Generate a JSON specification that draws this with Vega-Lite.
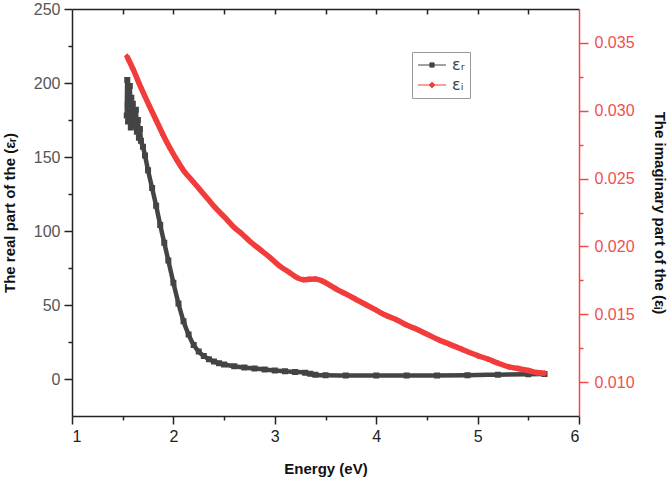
{
  "$schema": "https://vega.github.io/schema/vega-lite/v6.json",
  "width": 507,
  "height": 407,
  "padding": {"left": 2, "top": 1, "right": 5, "bottom": 5},
  "background": "white",
  "data": {
    "values": [
      {"E": 1.540, "v": 178, "s": "r"},
      {"E": 1.545, "v": 202, "s": "r"},
      {"E": 1.550, "v": 185, "s": "r"},
      {"E": 1.553, "v": 174, "s": "r"},
      {"E": 1.557, "v": 196, "s": "r"},
      {"E": 1.560, "v": 188, "s": "r"},
      {"E": 1.565, "v": 177, "s": "r"},
      {"E": 1.570, "v": 198, "s": "r"},
      {"E": 1.575, "v": 182, "s": "r"},
      {"E": 1.580, "v": 170, "s": "r"},
      {"E": 1.585, "v": 190, "s": "r"},
      {"E": 1.590, "v": 178, "s": "r"},
      {"E": 1.600, "v": 186, "s": "r"},
      {"E": 1.605, "v": 171, "s": "r"},
      {"E": 1.610, "v": 180, "s": "r"},
      {"E": 1.620, "v": 174, "s": "r"},
      {"E": 1.630, "v": 182, "s": "r"},
      {"E": 1.640, "v": 167, "s": "r"},
      {"E": 1.650, "v": 175, "s": "r"},
      {"E": 1.660, "v": 163, "s": "r"},
      {"E": 1.670, "v": 169, "s": "r"},
      {"E": 1.680, "v": 161, "s": "r"},
      {"E": 1.700, "v": 157, "s": "r"},
      {"E": 1.720, "v": 151, "s": "r"},
      {"E": 1.750, "v": 141, "s": "r"},
      {"E": 1.790, "v": 129, "s": "r"},
      {"E": 1.830, "v": 117, "s": "r"},
      {"E": 1.870, "v": 104, "s": "r"},
      {"E": 1.910, "v": 92, "s": "r"},
      {"E": 1.950, "v": 80, "s": "r"},
      {"E": 2.000, "v": 65, "s": "r"},
      {"E": 2.050, "v": 51, "s": "r"},
      {"E": 2.100, "v": 39, "s": "r"},
      {"E": 2.150, "v": 30, "s": "r"},
      {"E": 2.200, "v": 23, "s": "r"},
      {"E": 2.250, "v": 18.5, "s": "r"},
      {"E": 2.300, "v": 15.5, "s": "r"},
      {"E": 2.350, "v": 13.3, "s": "r"},
      {"E": 2.400, "v": 11.8, "s": "r"},
      {"E": 2.450, "v": 10.7, "s": "r"},
      {"E": 2.500, "v": 9.8, "s": "r"},
      {"E": 2.600, "v": 8.6, "s": "r"},
      {"E": 2.700, "v": 7.8, "s": "r"},
      {"E": 2.800, "v": 7.1, "s": "r"},
      {"E": 2.900, "v": 6.4, "s": "r"},
      {"E": 3.000, "v": 5.8, "s": "r"},
      {"E": 3.100, "v": 5.3, "s": "r"},
      {"E": 3.200, "v": 4.8, "s": "r"},
      {"E": 3.300, "v": 4.2, "s": "r"},
      {"E": 3.350, "v": 3.5, "s": "r"},
      {"E": 3.400, "v": 2.9, "s": "r"},
      {"E": 3.500, "v": 2.5, "s": "r"},
      {"E": 3.700, "v": 2.4, "s": "r"},
      {"E": 4.000, "v": 2.3, "s": "r"},
      {"E": 4.300, "v": 2.3, "s": "r"},
      {"E": 4.600, "v": 2.4, "s": "r"},
      {"E": 4.900, "v": 2.6, "s": "r"},
      {"E": 5.200, "v": 2.9, "s": "r"},
      {"E": 5.500, "v": 3.2, "s": "r"},
      {"E": 5.660, "v": 3.4, "s": "r"},
      {"E": 1.543, "v": 0.0340, "s": "i"},
      {"E": 1.600, "v": 0.0331, "s": "i"},
      {"E": 1.680, "v": 0.0317, "s": "i"},
      {"E": 1.760, "v": 0.0304, "s": "i"},
      {"E": 1.830, "v": 0.0293, "s": "i"},
      {"E": 1.900, "v": 0.0282, "s": "i"},
      {"E": 1.970, "v": 0.0272, "s": "i"},
      {"E": 2.040, "v": 0.0263, "s": "i"},
      {"E": 2.110, "v": 0.0255, "s": "i"},
      {"E": 2.180, "v": 0.0249, "s": "i"},
      {"E": 2.260, "v": 0.0242, "s": "i"},
      {"E": 2.340, "v": 0.0235, "s": "i"},
      {"E": 2.420, "v": 0.0228, "s": "i"},
      {"E": 2.500, "v": 0.0222, "s": "i"},
      {"E": 2.600, "v": 0.0214, "s": "i"},
      {"E": 2.680, "v": 0.0209, "s": "i"},
      {"E": 2.750, "v": 0.0204, "s": "i"},
      {"E": 2.850, "v": 0.0198, "s": "i"},
      {"E": 2.950, "v": 0.0192, "s": "i"},
      {"E": 3.040, "v": 0.0186, "s": "i"},
      {"E": 3.140, "v": 0.0181, "s": "i"},
      {"E": 3.220, "v": 0.01770, "s": "i"},
      {"E": 3.280, "v": 0.01755, "s": "i"},
      {"E": 3.340, "v": 0.01758, "s": "i"},
      {"E": 3.400, "v": 0.01760, "s": "i"},
      {"E": 3.460, "v": 0.01748, "s": "i"},
      {"E": 3.540, "v": 0.01715, "s": "i"},
      {"E": 3.620, "v": 0.0168, "s": "i"},
      {"E": 3.700, "v": 0.0165, "s": "i"},
      {"E": 3.800, "v": 0.0161, "s": "i"},
      {"E": 3.900, "v": 0.0157, "s": "i"},
      {"E": 4.000, "v": 0.0153, "s": "i"},
      {"E": 4.100, "v": 0.0149, "s": "i"},
      {"E": 4.200, "v": 0.0146, "s": "i"},
      {"E": 4.300, "v": 0.0142, "s": "i"},
      {"E": 4.400, "v": 0.0139, "s": "i"},
      {"E": 4.520, "v": 0.01346, "s": "i"},
      {"E": 4.620, "v": 0.0131, "s": "i"},
      {"E": 4.720, "v": 0.0128, "s": "i"},
      {"E": 4.850, "v": 0.0124, "s": "i"},
      {"E": 5.000, "v": 0.01195, "s": "i"},
      {"E": 5.100, "v": 0.0117, "s": "i"},
      {"E": 5.200, "v": 0.0114, "s": "i"},
      {"E": 5.310, "v": 0.01112, "s": "i"},
      {"E": 5.400, "v": 0.0110, "s": "i"},
      {"E": 5.500, "v": 0.01085, "s": "i"},
      {"E": 5.580, "v": 0.0107, "s": "i"},
      {"E": 5.660, "v": 0.01065, "s": "i"}
    ]
  },
  "layer": [
    {
      "transform": [{"filter": "datum.s == 'r'"}],
      "mark": {"type": "line", "color": "#444444", "strokeWidth": 4.5, "interpolate": "monotone"},
      "encoding": {
        "x": {
          "field": "E", "type": "quantitative",
          "scale": {"domain": [1, 6], "nice": false},
          "axis": {
            "orient": "bottom", "values": [1, 2, 3, 4, 5, 6], "tickSize": 8,
            "title": "Energy (eV)", "titlePadding": 17, "labelPadding": 4
          }
        },
        "y": {
          "field": "v", "type": "quantitative",
          "scale": {"domain": [-25, 250], "nice": false, "zero": false},
          "axis": {
            "orient": "left", "values": [0, 50, 100, 150, 200, 250], "tickSize": 8,
            "title": "The real part of the (εᵣ)", "labelColor": "#555555",
            "titlePadding": 16, "labelPadding": 4
          }
        }
      }
    },
    {
      "transform": [{"filter": "datum.s == 'r'"}],
      "mark": {"type": "point", "filled": true, "opacity": 1, "strokeWidth": 0},
      "encoding": {
        "x": {
          "field": "E", "type": "quantitative",
          "scale": {"domain": [1, 6], "nice": false},
          "axis": {
            "orient": "bottom", "values": [1.5, 2.5, 3.5, 4.5, 5.5], "tickSize": 4,
            "labels": false, "domain": false, "title": null
          }
        },
        "y": {
          "field": "v", "type": "quantitative",
          "scale": {"domain": [-25, 250], "nice": false, "zero": false},
          "axis": {
            "orient": "left", "values": [25, 75, 125, 175, 225], "tickSize": 4,
            "labels": false, "domain": false, "title": null
          }
        },
        "color": {
          "field": "s", "type": "nominal",
          "scale": {"domain": ["r", "i"], "range": ["#444444", "#f23c3c"]},
          "legend": {
            "orient": "none", "legendX": 340, "legendY": 43, "title": null,
            "labelExpr": "datum.value == 'r' ? 'εᵣ' : 'εᵢ'",
            "strokeColor": "#999999", "padding": 5, "symbolSize": 196,
            "symbolOffset": 7, "labelOffset": 12,
            "labelFontSize": 16, "rowPadding": 4, "symbolStrokeWidth": 1,
            "encode": {"symbols": {"update": {"strokeWidth": {"value": 1}}}}
          }
        },
        "stroke": {
          "field": "s", "type": "nominal",
          "scale": {"domain": ["r", "i"], "range": ["#444444", "#f23c3c"]},
          "legend": {
            "orient": "none", "legendX": 340, "legendY": 43, "title": null,
            "labelExpr": "datum.value == 'r' ? 'εᵣ' : 'εᵢ'",
            "strokeColor": "#999999", "padding": 5, "symbolSize": 196,
            "symbolOffset": 7, "labelOffset": 12,
            "labelFontSize": 16, "rowPadding": 4, "symbolStrokeWidth": 1,
            "encode": {"symbols": {"update": {"strokeWidth": {"value": 1}}}}
          }
        },
        "shape": {
          "field": "s", "type": "nominal",
          "scale": {"domain": ["r", "i"], "range": ["M-2,0H2M-0.3,-0.3H0.3V0.3H-0.3Z", "M-2,0H2M0,-0.4L0.4,0L0,0.4L-0.4,0Z"]},
          "legend": {
            "orient": "none", "legendX": 340, "legendY": 43, "title": null,
            "labelExpr": "datum.value == 'r' ? 'εᵣ' : 'εᵢ'",
            "strokeColor": "#999999", "padding": 5, "symbolSize": 196,
            "symbolOffset": 7, "labelOffset": 12,
            "labelFontSize": 16, "rowPadding": 4, "symbolStrokeWidth": 1,
            "encode": {"symbols": {"update": {"strokeWidth": {"value": 1}}}}
          }
        },
        "size": {"value": 400}
      }
    },
    {
      "transform": [{"filter": "datum.s == 'i'"}],
      "mark": {"type": "line", "color": "#f23c3c", "strokeWidth": 5.5, "interpolate": "monotone"},
      "encoding": {
        "x": {
          "field": "E", "type": "quantitative",
          "scale": {"domain": [1, 6], "nice": false},
          "axis": {
            "orient": "top", "values": [1.5, 2, 2.5, 3, 3.5, 4, 4.5, 5, 5.5],
            "tickSize": -5, "labels": false, "title": null
          }
        },
        "y": {
          "field": "v", "type": "quantitative",
          "scale": {"domain": [0.0075, 0.0375], "nice": false, "zero": false},
          "axis": {
            "orient": "right", "values": [0.01, 0.015, 0.02, 0.025, 0.03, 0.035],
            "format": ".3f", "tickSize": 9, "labelPadding": 6,
            "domainColor": "#f04848", "tickColor": "#f04848", "labelColor": "#f05050",
            "title": "The imaginary part of the (εᵢ)", "titlePadding": 17
          }
        }
      }
    },
    {
      "transform": [{"filter": "datum.s == 'i'"}],
      "mark": {"type": "point", "filled": true, "opacity": 1, "strokeWidth": 0},
      "encoding": {
        "x": {
          "field": "E", "type": "quantitative",
          "scale": {"domain": [1, 6], "nice": false},
          "axis": null
        },
        "y": {
          "field": "v", "type": "quantitative",
          "scale": {"domain": [0.0075, 0.0375], "nice": false, "zero": false},
          "axis": {
            "orient": "right", "values": [0.0125, 0.0175, 0.0225, 0.0275, 0.0325],
            "tickSize": 4, "labels": false, "domain": false, "title": null,
            "tickColor": "#f04848"
          }
        },
        "color": {"field": "s", "type": "nominal"},
        "stroke": {"field": "s", "type": "nominal"},
        "shape": {"field": "s", "type": "nominal"},
        "size": {"value": 250}
      }
    }
  ],
  "resolve": {
    "scale": {"y": "independent"},
    "axis": {"x": "independent", "y": "independent"}
  },
  "config": {
    "view": {"stroke": null},
    "font": "Liberation Sans",
    "axis": {
      "grid": false,
      "domainColor": "#222222", "domainWidth": 1.5,
      "tickColor": "#222222", "tickWidth": 1.5,
      "labelFont": "Liberation Sans", "labelFontSize": 16, "labelColor": "#222222",
      "titleFont": "Liberation Sans", "titleFontSize": 15, "titleFontWeight": "bold",
      "titleColor": "#111111"
    },
    "legend": {"labelFont": "DejaVu Sans", "labelColor": "#444444"}
  }
}
